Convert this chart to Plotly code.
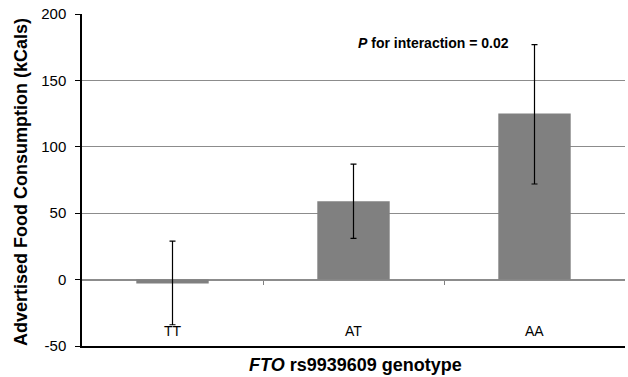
import plotly.graph_objects as go

genotypes = ["TT", "AT", "AA"]
means = [-3, 59, 125]
err_plus = [32, 28, 52]
err_minus = [31, 28, 53]
y_ticks = [-50, 0, 50, 100, 150, 200]
y_tick_labels = ["-50", "0", "50", "100", "150", "200"]

xpos = list(range(len(genotypes)))

fig = go.Figure()
fig.add_trace(go.Bar(
    x=xpos, y=means, width=0.4,
    marker=dict(color="#808080", line=dict(width=0)),
    error_y=dict(type="data", symmetric=False, array=err_plus, arrayminus=err_minus,
                 color="black", thickness=1.2, width=3),
    showlegend=False, hoverinfo="skip",
))
# invisible trace to host the zero-line tick axis
fig.add_trace(go.Scatter(x=[xpos[0]], y=[0], xaxis="x2", mode="markers",
                         marker=dict(opacity=0), showlegend=False, hoverinfo="skip"))

font_main = "Liberation Sans, Arial, sans-serif"
L, R, T, B = 82, 3, 14, 31
W, H = 628, 377
pw, ph = W - L - R, H - T - B

annotations = [dict(
    x=1.44, y=178, xref="x", yref="y", showarrow=False, xanchor="center", yanchor="middle",
    text="<b><i>P</i> for interaction = 0.02</b>", font=dict(size=14, family=font_main),
)]
for xi, g in zip(xpos, genotypes):
    annotations.append(dict(x=xi, y=-39, xref="x", yref="y", showarrow=False,
                            text=g, font=dict(size=14, family=font_main),
                            xanchor="center", yanchor="middle"))
annotations.append(dict(x=(355 - L) / pw, y=(H - B - 365) / ph, xref="paper", yref="paper", showarrow=False,
                        xanchor="center", yanchor="middle",
                        text="<b><i>FTO</i> rs9939609 genotype</b>", font=dict(size=18, family=font_main)))
annotations.append(dict(x=(21 - L) / pw, y=(H - B - 182) / ph, xref="paper", yref="paper", showarrow=False,
                        textangle=-90, xanchor="center", yanchor="middle",
                        text="<b>Advertised Food Consumption (kCals)</b>", font=dict(size=18, family=font_main)))

fig.update_layout(
    width=W, height=H,
    margin=dict(l=L, r=R, t=T, b=B, autoexpand=False),
    paper_bgcolor="white", plot_bgcolor="white",
    font=dict(family=font_main, color="black"),
    hovermode=False,
    xaxis=dict(
        range=[-0.5, 2.5], tickvals=xpos, showticklabels=False, ticks="", showgrid=False, zeroline=False,
        showline=True, linecolor="black", linewidth=1.5, automargin=False,
    ),
    xaxis2=dict(
        range=[-0.5, 2.5], overlaying="x", anchor="free", position=0.2,
        tickvals=[0.5, 1.5], ticks="outside", ticklen=4, tickcolor="#808080",
        showticklabels=False, showgrid=False, zeroline=False, showline=False,
    ),
    yaxis=dict(
        range=[-50, 200], tickvals=y_ticks, ticktext=y_tick_labels,
        showgrid=True, gridcolor="#8c8c8c", gridwidth=1,
        zeroline=True, zerolinecolor="#8c8c8c", zerolinewidth=1.5,
        showline=True, linecolor="black", linewidth=1.5, automargin=False,
        ticks="outside", ticklen=5, tickcolor="black", ticklabelstandoff=6,
        tickfont=dict(size=15, family=font_main),
    ),
    annotations=annotations,
)

fig.write_html("out.html", config={"displayModeBar": False},
               post_script="document.body.style.margin='0';document.body.style.overflow='hidden';")
